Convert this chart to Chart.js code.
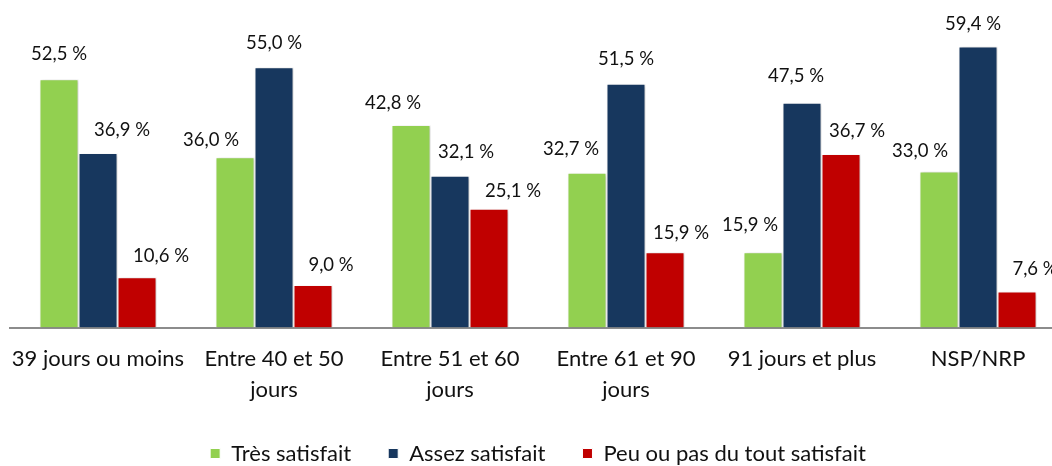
<!DOCTYPE html>
<html>
<head>
<meta charset="utf-8">
<script src="https://cdn.jsdelivr.net/npm/chart.js@4"></script>
<style>
  html, body { margin: 0; padding: 0; background: #fff; overflow: hidden; }
  #wrap { width: 1068px; height: 466px; position: relative; }
</style>
</head>
<body>
<div id="wrap"><canvas id="chart"></canvas></div>
<script>
"use strict";

const categories = [
    "39 jours ou moins",
    ["Entre 40 et 50", "jours"],
    ["Entre 51 et 60", "jours"],
    ["Entre 61 et 90", "jours"],
    "91 jours et plus",
    "NSP/NRP"
];
const seriesNames = ["Très satisfait", "Assez satisfait", "Peu ou pas du tout satisfait"];
const tresSatisfait = [52.5, 36.0, 42.8, 32.7, 15.9, 33.0];
const assezSatisfait = [36.9, 55.0, 32.1, 51.5, 47.5, 59.4];
const peuSatisfait = [10.6, 9.0, 25.1, 15.9, 36.7, 7.6];

const colors = ["#92D050", "#17375E", "#C00000"];
const fontFamily = "Lato, 'Open Sans', sans-serif";

// hand-placed label nudges (dx, dy from bar top), like the original
const labelShift = [
    [[0, -25], [-24, -17], [-18, -22], [-16, -24], [-13, -27], [-19, -20]],
    [[24, -23], [0, -24], [16, -24], [0, -25], [-6, -27], [-5, -22]],
    [[24, -21], [18, -20], [24, -18], [16, -19], [16, -23], [18, -23]]
];

function fmt(v) {
    return v.toFixed(1).replace(".", ",") + " %";
}

const shadowPlugin = {
    id: "barShadow",
    beforeDatasetsDraw(chart) {
        const ctx = chart.ctx;
        ctx.save();
        ctx.shadowColor = "rgba(0,0,0,0.25)";
        ctx.shadowBlur = 3;
        ctx.shadowOffsetX = 1.5;
        ctx.shadowOffsetY = 1;
    },
    afterDatasetsDraw(chart) {
        chart.ctx.restore();
    }
};

const valueLabels = {
    id: "valueLabels",
    afterDatasetsDraw(chart) {
        const ctx = chart.ctx;
        ctx.save();
        ctx.font = "18.5px " + fontFamily;
        ctx.fillStyle = "#111";
        ctx.textAlign = "center";
        ctx.textBaseline = "middle";
        chart.data.datasets.forEach((ds, i) => {
            const meta = chart.getDatasetMeta(i);
            meta.data.forEach((bar, j) => {
                const s = labelShift[i][j];
                ctx.fillText(fmt(ds.data[j]), bar.x + s[0], bar.y + s[1]);
            });
        });
        ctx.restore();
    }
};

const allSeries = [tresSatisfait, assezSatisfait, peuSatisfait];

new Chart(document.getElementById("chart"), {
    type: "bar",
    data: {
        labels: categories,
        datasets: allSeries.map((data, i) => ({
            label: seriesNames[i],
            data: data,
            backgroundColor: colors[i],
            borderColor: "#ffffff",
            borderWidth: 1,
            borderSkipped: "start",
            categoryPercentage: 0.665,
            barPercentage: 1
        }))
    },
    options: {
        responsive: true,
        maintainAspectRatio: false,
        animation: false,
        layout: { padding: { left: 10, right: 2, top: 20, bottom: -8.5 } },
        plugins: {
            tooltip: { enabled: false },
            legend: {
                position: "bottom",
                labels: {
                    boxWidth: 10,
                    boxHeight: 10,
                    padding: 37,
                    color: "#111",
                    font: { family: fontFamily, size: 22 }
                }
            }
        },
        scales: {
            x: {
                grid: { display: false, drawTicks: false },
                border: { display: true, color: "#8c8c8c", width: 2 },
                ticks: {
                    color: "#111",
                    padding: 16,
                    maxRotation: 0,
                    autoSkip: false,
                    font: { family: fontFamily, size: 22, lineHeight: 1.41 }
                },
                afterFit(scale) {
                    scale.height = 78;
                    scale.paddingLeft = 0;
                    scale.paddingRight = 0;
                }
            },
            y: {
                display: false,
                min: 0,
                max: 65
            }
        }
    },
    plugins: [shadowPlugin, valueLabels]
});
</script>
</body>
</html>
